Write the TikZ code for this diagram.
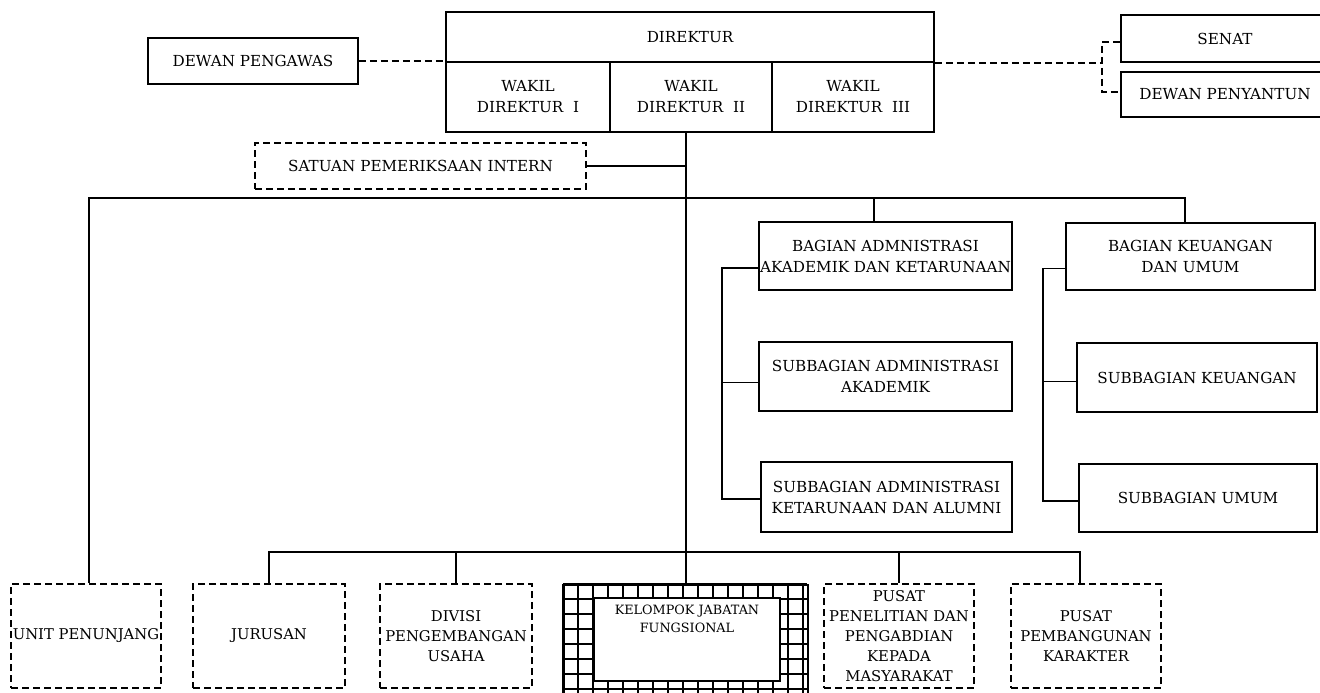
\documentclass[tikz,border=0pt]{standalone}
\usepackage{fontspec}
\setmainfont{DejaVu Serif}

\begin{document}
\begin{tikzpicture}[x=0.5pt, y=-0.5pt, font=\fontsize{7.6}{10.5}\selectfont,
                    box/.style={draw, line width=0.8pt, align=center, inner sep=0pt},
                    dbox/.style={box, dash pattern=on 3.5pt off 2pt, font=\fontsize{7.4}{10}\selectfont},
                    link/.style={line width=0.7pt},
                    dlink/.style={link, dash pattern=on 3.5pt off 2pt}]
                        \useasboundingbox (0,0) rectangle (1320,692);

                        \node[box, minimum width=105pt, minimum height=23pt] (pengawas) at (253,61) {DEWAN PENGAWAS};
                        \node[box, minimum width=244pt, minimum height=25pt] (direktur) at (690,37) {DIREKTUR};
                        \node[box, minimum width=82pt, minimum height=35pt] (wakil1) at (528,97) {WAKIL\\DIREKTUR~~I};
                        \node[box, minimum width=81pt, minimum height=35pt] (wakil2) at (691,97) {WAKIL\\DIREKTUR~~II};
                        \node[box, minimum width=81pt, minimum height=35pt] (wakil3) at (853,97) {WAKIL\\DIREKTUR~~III};
                        \node[box, minimum width=104pt, minimum height=23.5pt] (senat) at (1225,38.5) {SENAT};
                        \node[box, minimum width=104pt, minimum height=22.5pt] (penyantun) at (1225,94.5) {DEWAN PENYANTUN};
                        \node[dbox, minimum width=165.5pt, minimum height=23pt, font=\fontsize{7.6}{10.5}\selectfont] (spi) at (420.5,166) {SATUAN PEMERIKSAAN INTERN};

                        \node[box, minimum width=126.5pt, minimum height=34pt] (admin) at (885.5,256) {BAGIAN ADMNISTRASI\\AKADEMIK DAN KETARUNAAN};
                        \node[box, minimum width=126.5pt, minimum height=34.5pt] (subakad) at (885.5,376.5) {SUBBAGIAN ADMINISTRASI\\AKADEMIK};
                        \node[box, minimum width=125.5pt, minimum height=35pt] (subket) at (886.5,497) {SUBBAGIAN ADMINISTRASI\\KETARUNAAN DAN ALUMNI};
                        \node[box, minimum width=124.5pt, minimum height=33.5pt] (keuangan) at (1190.5,256.5) {BAGIAN KEUANGAN\\DAN UMUM};
                        \node[box, minimum width=120pt, minimum height=34.5pt] (subkeu) at (1197,377.5) {SUBBAGIAN KEUANGAN};
                        \node[box, minimum width=119pt, minimum height=34pt] (subumum) at (1198,498) {SUBBAGIAN UMUM};

                        \node[dbox, minimum width=75pt, minimum height=52pt] (unit) at (86,636) {UNIT PENUNJANG};
                        \node[dbox, minimum width=76pt, minimum height=52pt] (jurusan) at (269,636) {JURUSAN};
                        \node[dbox, minimum width=76pt, minimum height=52pt] (divisi) at (456,636) {DIVISI\\PENGEMBANGAN\\USAHA};
                        \node[dbox, minimum width=75pt, minimum height=52pt] (penelitian) at (899,636) {PUSAT\\PENELITIAN DAN\\PENGABDIAN\\KEPADA\\MASYARAKAT};
                        \node[dbox, minimum width=75pt, minimum height=52pt] (pembangunan) at (1086,636) {PUSAT\\PEMBANGUNAN\\KARAKTER};

                        \node[draw, line width=1pt, minimum width=122pt, minimum height=57.5pt, inner sep=0pt] (kjfframe) at (686,642.5) {};
                        \begin{scope}[shift={(kjfframe.north west)}]
                            \draw[line width=0.6pt, step=7.5pt] (0pt,0pt) grid (122pt,-57.5pt);
                        \end{scope}
                        \node[box, fill=white, line width=1pt, minimum width=93pt, minimum height=41.5pt,
                              font=\fontsize{6.4}{9}\selectfont] (kjf) at (687,639.5) {KELOMPOK JABATAN\\FUNGSIONAL\\[12pt]};

                        \coordinate (sx) at (1102,0);
                        \coordinate (tb) at (0,198);
                        \coordinate (bb) at (0,552);
                        \coordinate (akx) at (722,0);
                        \coordinate (kux) at (1043,0);

                        \draw[dlink] (pengawas.east) -- (pengawas.east -| direktur.west);
                        \draw[dlink] (direktur.south east) -- (direktur.south east -| sx);
                        \draw[dlink] ([yshift=-1.75pt]senat.west) -- ([yshift=-1.75pt]senat.west -| sx)
                                     -- ([yshift=1.25pt]penyantun.west -| sx) -- ([yshift=1.25pt]penyantun.west);

                        \draw[link] (wakil2.south -| kjfframe.north) -- (kjfframe.north);
                        \draw[link] (spi.east) -- (spi.east -| kjfframe.north);

                        \draw[link] ([xshift=1.5pt]unit.north) -- ([xshift=1.5pt]unit.north |- tb)
                                    -- ([xshift=-2.75pt]keuangan.north |- tb) -- ([xshift=-2.75pt]keuangan.north);
                        \draw[link] ([xshift=-5.75pt]admin.north) -- ([xshift=-5.75pt]admin.north |- tb);

                        \draw[link] ([yshift=-6pt]admin.west) -- ([yshift=-6pt]admin.west -| akx) |- ([yshift=-1pt]subket.west);
                        \draw[link] ([yshift=-3pt]subakad.west) -- ([yshift=-3pt]subakad.west -| akx);
                        \draw[link] ([yshift=-6pt]keuangan.west) -- ([yshift=-6pt]keuangan.west -| kux) |- ([yshift=-1.5pt]subumum.west);
                        \draw[link] ([yshift=-2pt]subkeu.west) -- ([yshift=-2pt]subkeu.west -| kux);

                        \draw[link] (jurusan.north) -- (jurusan.north |- bb)
                                    -- ([xshift=-3pt]pembangunan.north |- bb) -- ([xshift=-3pt]pembangunan.north);
                        \draw[link] (divisi.north) -- (divisi.north |- bb);
                        \draw[link] (penelitian.north) -- (penelitian.north |- bb);

                    \end{tikzpicture}
\end{document}
